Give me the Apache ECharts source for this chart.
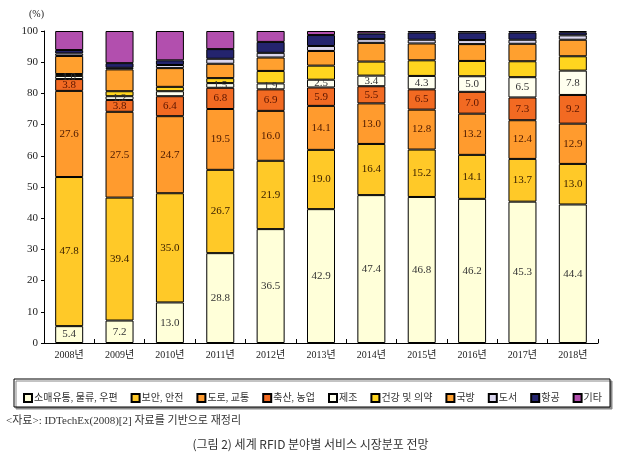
<!DOCTYPE html>
<html><head><meta charset="utf-8">
<script src="https://cdn.jsdelivr.net/npm/echarts@6/dist/echarts.min.js"></script>
<style>html,body{margin:0;padding:0;background:#fff}#c{width:621px;height:455px}</style>
</head><body><div id="c"></div>
<script>
const categories = ['2008년','2009년','2010년','2011년','2012년','2013년','2014년','2015년','2016년','2017년','2018년'];
const seriesNames = ['소매유통, 물류, 우편','보안, 안전','도로, 교통','축산, 농업','제조','건강 및 의약','국방','도서','항공','기타'];
const retail   = [5.4, 7.2, 13.0, 28.8, 36.5, 42.9, 47.4, 46.8, 46.2, 45.3, 44.4];
const security = [47.8, 39.4, 35.0, 26.7, 21.9, 19.0, 16.4, 15.2, 14.1, 13.7, 13.0];
const traffic  = [27.6, 27.5, 24.7, 19.5, 16.0, 14.1, 13.0, 12.8, 13.2, 12.4, 12.9];
const farming  = [3.8, 3.8, 6.4, 6.8, 6.9, 5.9, 5.5, 6.5, 7.0, 7.3, 9.2];
const manufact = [1.0, 1.2, 1.6, 1.5, 1.9, 2.5, 3.4, 4.3, 5.0, 6.5, 7.8];
const health   = [0.6, 1.6, 1.4, 1.6, 4.0, 4.5, 4.5, 5.0, 4.9, 5.1, 4.6];
const defense  = [5.8, 7.0, 6.0, 4.6, 4.3, 4.7, 6.0, 5.4, 5.4, 5.6, 5.3];
const library  = [0.8, 0.5, 1.0, 1.6, 1.5, 1.6, 1.2, 1.2, 1.3, 1.3, 1.4];
const aviation = [1.1, 1.5, 1.5, 3.1, 3.5, 3.5, 1.8, 2.3, 2.4, 2.3, 1.0];
const others   = [6.1, 10.3, 9.4, 5.8, 3.5, 1.3, 0.8, 0.5, 0.5, 0.5, 0.4];
const yTicks = [0,10,20,30,40,50,60,70,80,90,100];

const allData = [retail, security, traffic, farming, manufact, health, defense, library, aviation, others];
const colors = ['#FFFFD9','#FFC928','#FF9B2E','#F26A22','#FFFFEF','#FFD51F','#FFA02F','#DAD6EE','#24246E','#B24FAE'];
const labelColors = ['#333','#3a2000','#4a1800','#5a1500','#333'];
const hiddenLabels = {'4-2': true};
const serifCJK = '"Liberation Serif","Noto Sans CJK KR"';

const series = allData.map((d, i) => ({
  name: seriesNames[i],
  type: 'bar',
  stack: 'total',
  barWidth: 28,
  data: d,
  itemStyle: { color: colors[i], borderColor: '#000', borderWidth: 1 },
  label: {
    show: i < 5,
    position: 'inside',
    fontFamily: serifCJK,
    fontSize: 11,
    color: labelColors[i] || '#333',
    formatter: p => hiddenLabels[i + '-' + p.dataIndex] ? '' : p.value.toFixed(1)
  },
  emphasis: { disabled: true }
}));

const chart = echarts.init(document.getElementById('c'), null, { renderer: 'canvas' });
chart.setOption({
  animation: false,
  backgroundColor: '#fff',
  grid: { left: 44, right: 23, top: 31, bottom: 112, containLabel: false },
  xAxis: {
    type: 'category',
    data: categories,
    axisLine: { lineStyle: { color: '#000', width: 1 } },
    axisTick: { show: true, inside: true, length: 4, lineStyle: { color: '#000' } },
    axisLabel: { fontFamily: serifCJK, fontSize: 10, color: '#222', margin: 7 }
  },
  yAxis: {
    type: 'value',
    min: yTicks[0], max: yTicks[yTicks.length - 1], interval: 10,
    name: '(%)',
    nameGap: 12,
    nameTextStyle: { fontFamily: serifCJK, fontSize: 10, color: '#222', align: 'right' },
    axisLine: { show: true, lineStyle: { color: '#000', width: 1 } },
    axisTick: { show: true, length: 3, lineStyle: { color: '#000' } },
    splitLine: { show: false },
    axisLabel: { fontFamily: serifCJK, fontSize: 11, color: '#222', margin: 6 }
  },
  legend: {
    data: seriesNames,
    left: 18,
    top: 388,
    width: 610,
    icon: 'rect',
    itemWidth: 8,
    itemHeight: 8,
    itemGap: 13,
    selectedMode: false,
    textStyle: { fontFamily: serifCJK, fontSize: 10, color: '#333', padding: [0, 0, 0, -3] }
  },
  graphic: [
    { type: 'rect', z: -1, shape: { x: 14, y: 379, width: 596, height: 28 },
      style: { fill: '#fff', stroke: '#000', lineWidth: 1, shadowColor: '#888', shadowOffsetX: 2, shadowOffsetY: 2, shadowBlur: 0 } }
  ],
  title: [
    { text: '<자료>: IDTechEx(2008)[2] 자료를 기반으로 재정리', left: 1, top: 411,
      textStyle: { fontFamily: serifCJK, fontSize: 11, fontWeight: 'normal', color: '#333' } },
    { text: '(그림 2) 세계 RFID 분야별 서비스 시장분포 전망', left: 'center', top: 433,
      textStyle: { fontFamily: '"Noto Sans CJK KR"', fontSize: 12, fontWeight: 'normal', color: '#333' } }
  ],
  series: series
});
</script>
</body></html>
